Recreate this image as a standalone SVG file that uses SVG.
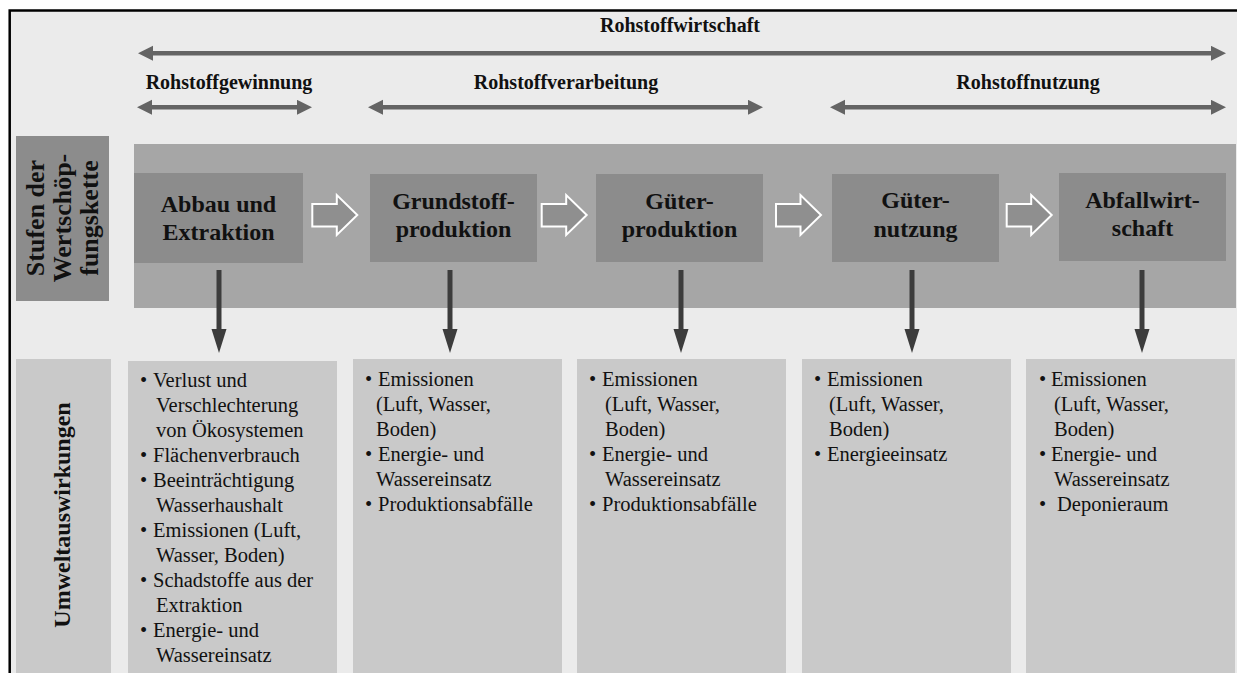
<svg xmlns="http://www.w3.org/2000/svg" width="1237" height="673" viewBox="0 0 1237 673">
  <style>
    .lbl-b { font-family: "Liberation Serif", "Times New Roman", serif; font-weight: bold; fill: #111; }
    .head { font-size: 20px; text-anchor: middle; }
    .stage { font-size: 24px; text-anchor: middle; }
    .side { font-size: 26px; text-anchor: middle; }
    .list { font-family: "Liberation Serif", "Times New Roman", serif; font-size: 20.5px; fill: #111; }
    .band { fill: #a6a6a6; }
    .stage-box { fill: #8c8c8c; }
    .impact-box { fill: #c9c9c9; }
    .span { stroke: #646464; stroke-width: 4.5; fill: none; }
    .down { stroke: #3c3c3c; stroke-width: 5; fill: none; }
    .flow { fill: #8f8f8f; stroke: #ffffff; stroke-width: 2; stroke-linejoin: miter; }
  </style>
  <defs>
    <marker id="spanHead" markerUnits="userSpaceOnUse" markerWidth="16" markerHeight="16" refX="5" refY="7.5" orient="auto-start-reverse">
      <path d="M0,0 L15,7.5 L0,15 Z" fill="#646464"/>
    </marker>
    <marker id="downHead" markerUnits="userSpaceOnUse" markerWidth="26" markerHeight="16" refX="4" refY="7.5" orient="auto">
      <path d="M0,0 L24,7.5 L0,15 Z" fill="#3c3c3c"/>
    </marker>
    <!-- hollow block arrow between value-chain stages -->
    <path id="flowArrow" d="M0,9 L24.5,9 L24.5,0 L45,20 L24.5,40 L24.5,31.5 L0,31.5 Z"/>
  </defs>

  <!-- frame -->
  <rect x="9.7" y="10.5" width="1250" height="680" fill="#ebebeb" stroke="#000" stroke-width="2.5"/>

  <!-- span headings -->
  <g id="heading-rohstoffwirtschaft">
    <text class="lbl-b head" x="680" y="32">Rohstoffwirtschaft</text>
  </g>
  <g id="heading-gewinnung">
    <text class="lbl-b head" x="229" y="89">Rohstoffgewinnung</text>
  </g>
  <g id="heading-verarbeitung">
    <text class="lbl-b head" x="566" y="89">Rohstoffverarbeitung</text>
  </g>
  <g id="heading-nutzung">
    <text class="lbl-b head" x="1028" y="89">Rohstoffnutzung</text>
  </g>

  <!-- side labels -->
  <g id="label-stufen">
    <rect x="16" y="136" width="93" height="165" class="stage-box"/>
    <text class="lbl-b side" transform="translate(44,218) rotate(-90)">Stufen der</text>
    <text class="lbl-b side" transform="translate(71,218) rotate(-90)">Wertschöp-</text>
    <text class="lbl-b side" transform="translate(98,218) rotate(-90)">fungskette</text>
  </g>
  <g id="label-umwelt">
    <rect x="16" y="359" width="95" height="330" class="impact-box"/>
    <text class="lbl-b" style="font-size:24px;text-anchor:middle" transform="translate(70,515) rotate(-90)">Umweltauswirkungen</text>
  </g>

  <!-- value chain band -->
  <rect x="134" y="144" width="1102" height="164" class="band"/>

  <g id="stage-abbau">
    <rect x="134" y="173" width="169" height="90" class="stage-box"/>
    <text class="lbl-b stage" x="218.5" y="211.5">Abbau und</text>
    <text class="lbl-b stage" x="218.5" y="240">Extraktion</text>
  </g>
  <g id="stage-grundstoff">
    <rect x="370" y="174" width="167" height="88" class="stage-box"/>
    <text class="lbl-b stage" x="453.5" y="208.5">Grundstoff-</text>
    <text class="lbl-b stage" x="453.5" y="237">produktion</text>
  </g>
  <g id="stage-gueterproduktion">
    <rect x="596" y="174" width="167" height="88" class="stage-box"/>
    <text class="lbl-b stage" x="679.5" y="208.5">Güter-</text>
    <text class="lbl-b stage" x="679.5" y="237">produktion</text>
  </g>
  <g id="stage-gueternutzung">
    <rect x="832" y="174" width="167" height="88" class="stage-box"/>
    <text class="lbl-b stage" x="915.5" y="208">Güter-</text>
    <text class="lbl-b stage" x="915.5" y="236.5">nutzung</text>
  </g>
  <g id="stage-abfall">
    <rect x="1059" y="173" width="167" height="88" class="stage-box"/>
    <text class="lbl-b stage" x="1142.5" y="207.5">Abfallwirt-</text>
    <text class="lbl-b stage" x="1142.5" y="236">schaft</text>
  </g>

  <!-- environmental impacts -->
  <g id="impact-abbau">
    <rect x="128" y="361" width="209" height="330" class="impact-box"/>
    <text class="list">
      <tspan x="140" y="387">•</tspan><tspan x="153" y="387">Verlust und</tspan>
      <tspan x="156" y="412">Verschlechterung</tspan>
      <tspan x="156" y="437">von Ökosystemen</tspan>
      <tspan x="140" y="462">•</tspan><tspan x="153" y="462">Flächenverbrauch</tspan>
      <tspan x="140" y="487">•</tspan><tspan x="153" y="487">Beeinträchtigung</tspan>
      <tspan x="156" y="512">Wasserhaushalt</tspan>
      <tspan x="140" y="537">•</tspan><tspan x="153" y="537">Emissionen (Luft,</tspan>
      <tspan x="156" y="562">Wasser, Boden)</tspan>
      <tspan x="140" y="587">•</tspan><tspan x="153" y="587">Schadstoffe aus der</tspan>
      <tspan x="156" y="612">Extraktion</tspan>
      <tspan x="140" y="637">•</tspan><tspan x="153" y="637">Energie- und</tspan>
      <tspan x="156" y="662">Wassereinsatz</tspan>
    </text>
  </g>
  <g id="impact-grundstoff">
    <rect x="353" y="359" width="209" height="330" class="impact-box"/>
    <text class="list">
      <tspan x="365" y="386">•</tspan><tspan x="378" y="386">Emissionen</tspan>
      <tspan x="376" y="411">(Luft, Wasser,</tspan>
      <tspan x="376" y="436">Boden)</tspan>
      <tspan x="365" y="461">•</tspan><tspan x="378" y="461">Energie- und</tspan>
      <tspan x="376" y="486">Wassereinsatz</tspan>
      <tspan x="365" y="511">•</tspan><tspan x="378" y="511">Produktionsabfälle</tspan>
    </text>
  </g>
  <g id="impact-gueterproduktion">
    <rect x="577" y="359" width="209" height="330" class="impact-box"/>
    <text class="list">
      <tspan x="589" y="386">•</tspan><tspan x="602" y="386">Emissionen</tspan>
      <tspan x="605" y="411">(Luft, Wasser,</tspan>
      <tspan x="605" y="436">Boden)</tspan>
      <tspan x="589" y="461">•</tspan><tspan x="602" y="461">Energie- und</tspan>
      <tspan x="605" y="486">Wassereinsatz</tspan>
      <tspan x="589" y="511">•</tspan><tspan x="602" y="511">Produktionsabfälle</tspan>
    </text>
  </g>
  <g id="impact-gueternutzung">
    <rect x="802" y="359" width="209" height="330" class="impact-box"/>
    <text class="list">
      <tspan x="814" y="386">•</tspan><tspan x="827" y="386">Emissionen</tspan>
      <tspan x="829" y="411">(Luft, Wasser,</tspan>
      <tspan x="829" y="436">Boden)</tspan>
      <tspan x="814" y="461">•</tspan><tspan x="827" y="461">Energieeinsatz</tspan>
    </text>
  </g>
  <g id="impact-abfall">
    <rect x="1026" y="359" width="209" height="330" class="impact-box"/>
    <text class="list">
      <tspan x="1039" y="386">•</tspan><tspan x="1051" y="386">Emissionen</tspan>
      <tspan x="1054" y="411">(Luft, Wasser,</tspan>
      <tspan x="1054" y="436">Boden)</tspan>
      <tspan x="1039" y="461">•</tspan><tspan x="1051" y="461">Energie- und</tspan>
      <tspan x="1054" y="486">Wassereinsatz</tspan>
      <tspan x="1039" y="511">•</tspan><tspan x="1057" y="511">Deponieraum</tspan>
    </text>
  </g>

  <!-- connectors -->
  <g id="connectors">
    <!-- span arrows -->
    <line class="span" x1="148" y1="53.3" x2="1216" y2="53.3" marker-start="url(#spanHead)" marker-end="url(#spanHead)"/>
    <line class="span" x1="147" y1="107.3" x2="302" y2="107.3" marker-start="url(#spanHead)" marker-end="url(#spanHead)"/>
    <line class="span" x1="378" y1="107.3" x2="753" y2="107.3" marker-start="url(#spanHead)" marker-end="url(#spanHead)"/>
    <line class="span" x1="840" y1="107.3" x2="1216" y2="107.3" marker-start="url(#spanHead)" marker-end="url(#spanHead)"/>

    <!-- flow between stages -->
    <use href="#flowArrow" class="flow" transform="translate(312.3,195)"/>
    <use href="#flowArrow" class="flow" transform="translate(541.7,195)"/>
    <use href="#flowArrow" class="flow" transform="translate(776,195)"/>
    <use href="#flowArrow" class="flow" transform="translate(1006.7,195)"/>

    <!-- stage to impacts -->
    <line class="down" x1="219" y1="270" x2="219" y2="333" marker-end="url(#downHead)"/>
    <line class="down" x1="450" y1="270" x2="450" y2="333" marker-end="url(#downHead)"/>
    <line class="down" x1="681" y1="270" x2="681" y2="333" marker-end="url(#downHead)"/>
    <line class="down" x1="912" y1="270" x2="912" y2="333" marker-end="url(#downHead)"/>
    <line class="down" x1="1142" y1="270" x2="1142" y2="333" marker-end="url(#downHead)"/>
  </g>
</svg>
